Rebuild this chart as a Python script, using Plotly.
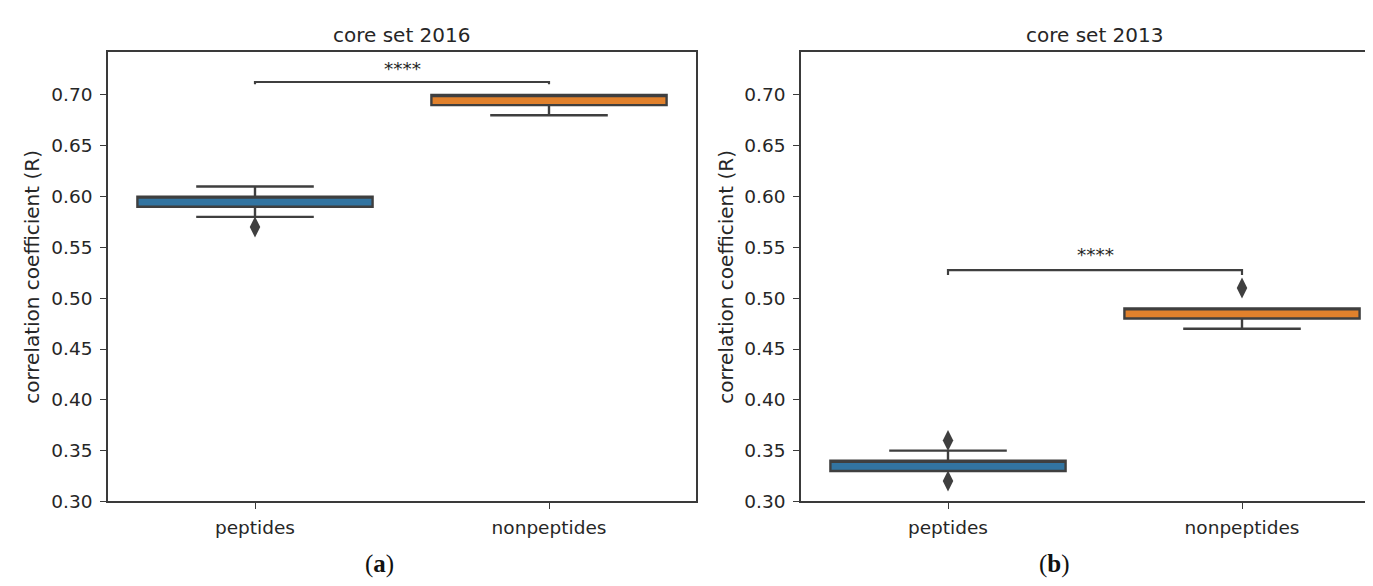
import plotly.graph_objects as go

# ---------------- data ----------------
categories = ["peptides", "nonpeptides"]
titles = ["core set 2016", "core set 2013"]
panel_labels = ["(<b>a</b>)", "(<b>b</b>)"]

# core set 2016
q1_2016 = [0.59, 0.69]
med_2016 = [0.60, 0.70]
q3_2016 = [0.60, 0.70]
low_2016 = [0.58, 0.68]
high_2016 = [0.61, 0.70]
outliers_2016 = [[0.57], []]
bracket_2016 = 0.7128
bracket_drop_2016 = 0.0022

# core set 2013
q1_2013 = [0.33, 0.48]
med_2013 = [0.34, 0.49]
q3_2013 = [0.34, 0.49]
low_2013 = [0.33, 0.47]
high_2013 = [0.35, 0.49]
outliers_2013 = [[0.36, 0.32], [0.51]]
bracket_2013 = 0.5276
bracket_drop_2013 = 0.0048

sig_text = "****"
y_ticks = [0.30, 0.35, 0.40, 0.45, 0.50, 0.55, 0.60, 0.65, 0.70]
y_label = "correlation coefficient (R)"

# ---------------- style ----------------
W, H = 1373, 586
fills = ["#3274A1", "#E1812C"]
edge = "#3F3F3F"
spine = "#3a3a3a"
txt = "#262626"
FONT = "DejaVu Sans"
TICK_SIZE = 18.5

def px_x(p):
    return p / W

def px_y(p):
    return 1 - p / H

fig = go.Figure()

panels = [
    (q1_2016, med_2016, q3_2016, low_2016, high_2016, outliers_2016, bracket_2016, bracket_drop_2016, "x", "y"),
    (q1_2013, med_2013, q3_2013, low_2013, high_2013, outliers_2013, bracket_2013, bracket_drop_2013, "x2", "y2"),
]

for (q1, med, q3, lo, hi, outs, br, drop, xa, ya) in panels:
    for i, cat in enumerate(categories):
        fig.add_trace(go.Box(
            x=[cat], q1=[q1[i]], median=[med[i]], q3=[q3[i]],
            lowerfence=[lo[i]], upperfence=[hi[i]],
            width=0.8, whiskerwidth=0.5,
            fillcolor=fills[i], line=dict(color=edge, width=2.4),
            boxpoints=False, xaxis=xa, yaxis=ya, hoverinfo="skip",
            showlegend=False,
        ))
        if outs[i]:
            fig.add_trace(go.Scatter(
                x=[cat] * len(outs[i]), y=outs[i], mode="markers",
                marker=dict(symbol="diamond-tall", size=15, color=edge,
                            line=dict(width=0)),
                xaxis=xa, yaxis=ya, showlegend=False, hoverinfo="skip",
            ))
    # significance bracket
    fig.add_trace(go.Scatter(
        x=[categories[0], categories[0], categories[1], categories[1]],
        y=[br - drop, br, br, br - drop], mode="lines",
        line=dict(color=edge, width=2.2), xaxis=xa, yaxis=ya,
        showlegend=False, hoverinfo="skip",
    ))

# axes geometry (pixels from the reference)
left1, right1 = 100, 688
left2 = 793
unit = (right1 - left1) / 2.0
top, bottom = 45, 502
ytop = 0.70 + (88.5 - top) / ((bottom - 88.5) / 0.40)
yrange = [0.30, ytop]

xcommon = dict(type="category", categoryorder="array", categoryarray=categories,
               showline=True, linecolor=spine, linewidth=1.6, mirror=True,
               ticks="outside", ticklen=6, tickwidth=1.4, tickcolor=spine,
               tickfont=dict(family=FONT, size=TICK_SIZE, color=txt),
               ticklabelstandoff=3,
               showgrid=False, zeroline=False, fixedrange=True)
ycommon = dict(range=yrange, tickvals=y_ticks, tickformat=".2f",
               showline=True, linecolor=spine, linewidth=1.6,
               ticks="outside", ticklen=6, tickwidth=1.4, tickcolor=spine,
               tickfont=dict(family=FONT, size=TICK_SIZE, color=txt),
               ticklabelstandoff=4,
               showgrid=False, zeroline=False, fixedrange=True)

fig.update_layout(
    xaxis=dict(xcommon, domain=[px_x(left1), px_x(right1)], range=[-0.5, 1.5], anchor="y"),
    yaxis=dict(ycommon, domain=[px_y(bottom), px_y(top)], mirror=True, anchor="x"),
    xaxis2=dict(xcommon, domain=[px_x(left2), 1.0],
                range=[-0.5, -0.5 + (W - left2) / unit], anchor="y2"),
    yaxis2=dict(ycommon, domain=[px_y(bottom), px_y(top)], mirror=False, anchor="x2"),
    width=W, height=H,
    margin=dict(l=0, r=0, t=0, b=0),
    paper_bgcolor="white", plot_bgcolor="white",
    boxmode="overlay", showlegend=False,
)

centers = [(left1 + right1) / 2, left2 + unit]
ylab_x = [24, 718]
label_x = [371, 1046]
for k in range(2):
    fig.add_annotation(text=titles[k], xref="paper", yref="paper",
                       x=px_x(centers[k]), y=px_y(27), xanchor="center", yanchor="middle",
                       showarrow=False, font=dict(family=FONT, size=20, color=txt))
    fig.add_annotation(text=y_label, xref="paper", yref="paper", textangle=-90,
                       x=px_x(ylab_x[k]), y=px_y((top + bottom) / 2),
                       xanchor="center", yanchor="middle",
                       showarrow=False, font=dict(family=FONT, size=20, color=txt))
    fig.add_annotation(text=panel_labels[k], xref="paper", yref="paper",
                       x=px_x(label_x[k]), y=px_y(566), xanchor="center", yanchor="middle",
                       showarrow=False, font=dict(family="Liberation Serif", size=25, color="#111"))

# significance stars
fig.add_annotation(text=sig_text, xref="x", yref="y", x=0.5, y=bracket_2016,
                   xanchor="center", yanchor="bottom", yshift=1, showarrow=False,
                   font=dict(family=FONT, size=TICK_SIZE, color=txt))
fig.add_annotation(text=sig_text, xref="x2", yref="y2", x=0.5, y=bracket_2013,
                   xanchor="center", yanchor="bottom", yshift=3, showarrow=False,
                   font=dict(family=FONT, size=TICK_SIZE, color=txt))

fig.write_html("out.html")
